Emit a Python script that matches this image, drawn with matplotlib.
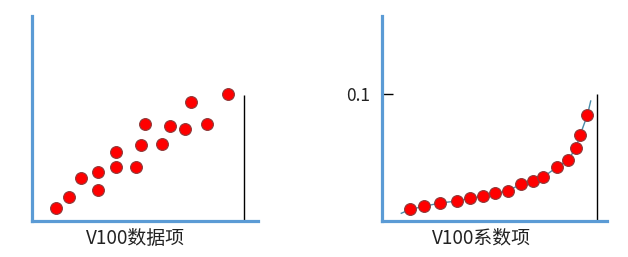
import matplotlib
matplotlib.use("Agg")
import matplotlib.pyplot as plt

plt.rcParams["font.family"] = ["Noto Sans CJK SC", "DejaVu Sans"]

# left panel: scattered data items (arbitrary units)
data_x = [24.3, 37.3, 49.3, 66, 66, 84, 84, 103.7, 109.3, 112.7, 130.3, 138.3, 153.3, 159, 175.3, 196]
data_y = [12.7, 23.7, 42.7, 48.7, 30.7, 69.3, 53.7, 53.7, 75.7, 96.7, 76.7, 94.7, 91.7, 118.7, 96.7, 126.7]
data_marker_x = 211.5
data_marker_top = 126

# right panel: coefficient items
coef_x = [28.6, 42.6, 58.3, 75.6, 88.6, 101.6, 113.6, 126, 139.6, 151.6, 161.6, 175, 186.6, 194, 198.3, 205.6]
coef_y = [0.0092, 0.0116, 0.0142, 0.0158, 0.0182, 0.0195, 0.0221, 0.0237, 0.0292, 0.0313,
          0.0347, 0.0424, 0.0484, 0.0574, 0.0676, 0.0834]
curve_x = [19.6] + coef_x + [209]
curve_y = [0.0061] + coef_y + [0.0947]
coef_marker_x = 215.6
coef_tick = 0.1

labels = ["V100数据项", "V100系数项"]

AXIS_BLUE = "#5B9BD5"
W, H = 628, 257


def _panel(left_px, right_px):
    top_px, bottom_px = 16, 221
    ax = fig.add_axes([left_px / W, (H - bottom_px) / H,
                       (right_px - left_px) / W, (bottom_px - top_px) / H])
    for side in ["top", "right"]:
        ax.spines[side].set_visible(False)
    for side in ["left", "bottom"]:
        ax.spines[side].set_color(AXIS_BLUE)
        ax.spines[side].set_linewidth(2.3)
        ax.spines[side].set_capstyle("projecting")
    ax.set_xticks([])
    ax.set_yticks([])
    return ax


fig = plt.figure(figsize=(6.28, 2.57), dpi=100)

ax1 = _panel(32, 258)
ax1.set_xlim(0, 226)
ax1.set_ylim(0, 205)
ax1.vlines(data_marker_x, 0, data_marker_top, color="black", lw=1)
ax1.plot(data_x, data_y, "o", ms=8.5, mfc="#FF0000", mec="#8E3A3A", mew=0.8, clip_on=False)
ax1.text(0.456, -0.083, labels[0], transform=ax1.transAxes, ha="center", va="center",
         fontsize=13.6, color="#222222")

ax2 = _panel(381.7, 606.7)
ax2.set_xlim(0, 225)
ax2.set_ylim(0, 0.1618)
ax2.vlines(coef_marker_x, 0, coef_tick, color="black", lw=1)
ax2.plot(curve_x, curve_y, "-", color="#4A8CAA", lw=1)
ax2.plot(coef_x, coef_y, "o", ms=8.5, mfc="#FF0000", mec="#8E3A3A", mew=0.8, clip_on=False)
ax2.set_yticks([coef_tick])
ax2.set_yticklabels(["0.1"])
ax2.tick_params(axis="y", direction="in", length=8, width=1, color="black",
                pad=8, labelsize=12.5, labelcolor="#222222")
ax2.text(0.444, -0.083, labels[1], transform=ax2.transAxes, ha="center", va="center",
         fontsize=13.6, color="#222222")

fig.savefig("out.png", dpi=100)
